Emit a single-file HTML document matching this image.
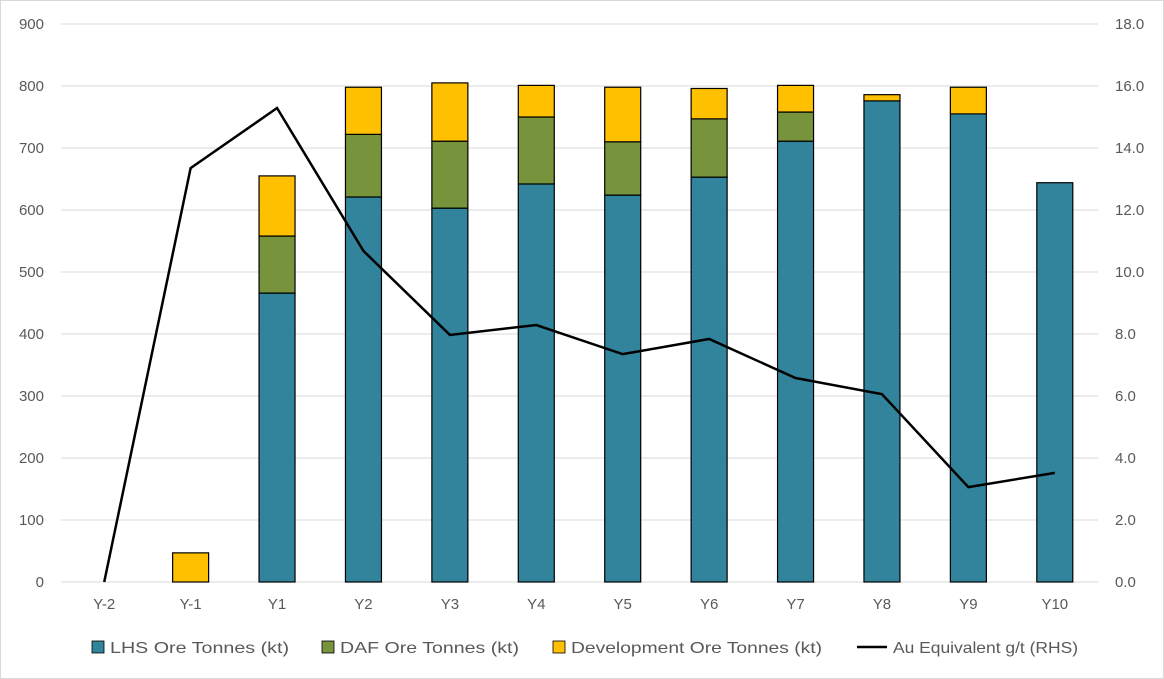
<!DOCTYPE html>
<html><head><meta charset="utf-8"><style>
body{margin:0;background:#fff;font-family:"Liberation Sans",sans-serif}
svg{display:block}
</style></head><body>
<svg id="chart" width="1164" height="679">
<rect x="0.5" y="0.5" width="1163" height="678" fill="#fff" stroke="#d9d9d9"/>
<g id="grid"></g><g id="bars"></g><g id="line"></g><g id="axes"></g>
<g id="legend" font-size="16" fill="#595959">
<g><rect x="92" y="641" width="12" height="12" fill="#31849B" stroke="#000" stroke-width="0.8"/><text x="110" y="653" textLength="179" lengthAdjust="spacingAndGlyphs">LHS Ore Tonnes (kt)</text></g>
<g><rect x="322" y="641" width="12" height="12" fill="#77933C" stroke="#000" stroke-width="0.8"/><text x="340" y="653" textLength="179" lengthAdjust="spacingAndGlyphs">DAF Ore Tonnes (kt)</text></g>
<g><rect x="553" y="641" width="12" height="12" fill="#FFC000" stroke="#000" stroke-width="0.8"/><text x="571" y="653" textLength="251" lengthAdjust="spacingAndGlyphs">Development Ore Tonnes (kt)</text></g>
<g><line x1="857" y1="647" x2="887" y2="647" stroke="#000" stroke-width="2.5"/><text x="893" y="653" textLength="185" lengthAdjust="spacingAndGlyphs">Au Equivalent g/t (RHS)</text></g>
</g>
</svg>
<script>
const categories=["Y-2","Y-1","Y1","Y2","Y3","Y4","Y5","Y6","Y7","Y8","Y9","Y10"];
const lhs=[0,0,466,621,603,642,624,653,711,776,755,644];
const daf=[0,0,92,101,108,108,86,94,47,0,0,0];
const dev=[0,47,97,76,94,51,88,49,43,10,43,0];
const auEq=[0,13.35,15.29,10.68,7.97,8.29,7.35,7.84,6.58,6.06,3.06,3.52];
const leftTicks=[0,100,200,300,400,500,600,700,800,900];
const rightTicks=["0.0","2.0","4.0","6.0","8.0","10.0","12.0","14.0","16.0","18.0"];
const NS="http://www.w3.org/2000/svg";
const L=61,R=1098,T=24,B=582;
const yL=v=>B-(B-T)*v/900, yR=v=>B-(B-T)*v/18;
const step=(R-L)/categories.length;
const xC=i=>L+step*(i+0.5);
const bw=36;
function mk(t,a,p){const e=document.createElementNS(NS,t);for(const k in a)e.setAttribute(k,a[k]);p.appendChild(e);return e;}
const grid=document.getElementById('grid'),bars=document.getElementById('bars'),line=document.getElementById('line'),axes=document.getElementById('axes');
leftTicks.forEach((v,i)=>{
 const g=mk('line',{x1:L,x2:R,y1:yL(v),y2:yL(v),stroke:'#d9d9d9'},grid);
 
 
 const t=mk('text',{x:44,y:yL(v)+5,'text-anchor':'end','font-size':15,fill:'#595959'},axes);t.textContent=v;
 
 
 const t2=mk('text',{x:1115,y:yR(+rightTicks[i])+5,'font-size':15,fill:'#595959'},axes);t2.textContent=rightTicks[i];
 
 
});
categories.forEach((c,i)=>{
 const t=mk('text',{x:xC(i),y:609,'text-anchor':'middle','font-size':15,fill:'#595959'},axes);t.textContent=c;
 
 
 let base=0;
 [[lhs,'#31849B','lhs'],[daf,'#77933C','daf'],[dev,'#FFC000','dev']].forEach(([arr,col,n])=>{
  const v=arr[i]; if(v<=0)return;
  const r=mk('rect',{x:xC(i)-bw/2,y:yL(base+v),width:bw,height:yL(base)-yL(base+v),fill:col,stroke:'#000','stroke-width':1.2},bars);
  
  
  base+=v;
 });
});
const pts=auEq.map((v,i)=>xC(i)+','+yR(v)).join(' ');
const pl=mk('polyline',{points:pts,fill:'none',stroke:'#000','stroke-width':2.5},line);


</script>
</body></html>
